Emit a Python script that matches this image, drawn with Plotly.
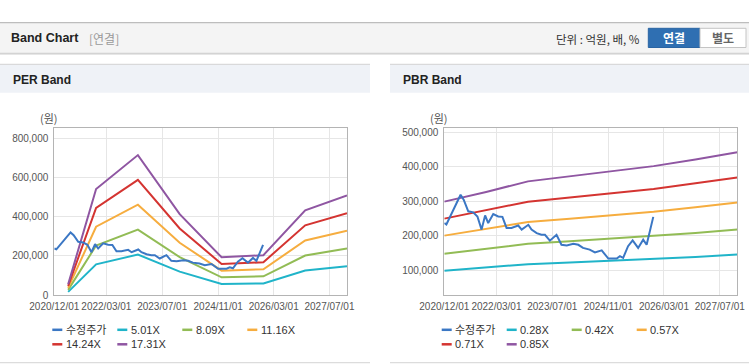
import plotly.graph_objects as go

W, H = 749, 364

# ---------------- data ----------------
price_dates = ["2020-12-01", "2020-12-19", "2021-04-22", "2021-05-19", "2021-06-28", "2021-08-10",
               "2021-09-16", "2021-10-22", "2021-11-22", "2021-12-19", "2022-02-01", "2022-03-16",
               "2022-04-22", "2022-05-28", "2022-07-10", "2022-09-07", "2022-10-07", "2022-12-04",
               "2023-01-01", "2023-02-15", "2023-03-28", "2023-04-28", "2023-06-10", "2023-08-07",
               "2023-09-19", "2023-11-04", "2024-01-01", "2024-02-13", "2024-03-25", "2024-05-22",
               "2024-07-07", "2024-09-04", "2024-11-01", "2025-01-13", "2025-02-10", "2025-03-10",
               "2025-04-22", "2025-06-01", "2025-07-19", "2025-09-01", "2025-10-01", "2025-10-28",
               "2025-11-28"]
price_vals = [237000, 233000, 319000, 305000, 271000, 268000, 256000, 218000, 259000, 237000,
              263000, 256000, 255000, 223000, 223000, 230000, 218000, 232000, 218000, 208000,
              203000, 203000, 186000, 203000, 174000, 172000, 177000, 174000, 165000, 160000,
              152000, 158000, 134000, 134000, 141000, 136000, 170000, 187000, 165000, 189000,
              174000, 208000, 255000]

per_dates = ["2021-04-01", "2021-12-01", "2022-12-01", "2023-12-01", "2024-12-01",
             "2025-12-01", "2026-12-01", "2027-12-01"]
per_501 = [16000, 156000, 206000, 119000, 56000, 59000, 125000, 147000]
per_809 = [26000, 252000, 333000, 193000, 90000, 95000, 201000, 237000]
per_1116 = [36000, 348000, 460000, 266000, 124000, 131000, 278000, 327000]
per_1424 = [46000, 444000, 587000, 339000, 158000, 167000, 355000, 417000]
per_1731 = [55000, 540000, 713000, 412000, 192000, 203000, 431000, 507000]
per_names = ["5.01X", "8.09X", "11.16X", "14.24X", "17.31X"]

pbr_dates = ["2020-12-01", "2021-12-01", "2022-12-01", "2023-12-01", "2024-12-01",
             "2025-12-01", "2026-12-01", "2027-12-01"]
pbr_028 = [98600, 107800, 117900, 122600, 127700, 132400, 138900, 145600]
pbr_042 = [147800, 161700, 176800, 184000, 191500, 198700, 208300, 218400]
pbr_057 = [200600, 219500, 240000, 249700, 259900, 269600, 282700, 296400]
pbr_071 = [249900, 273400, 298900, 311000, 323800, 335800, 352200, 369200]
pbr_085 = [299200, 327300, 357900, 372300, 387600, 402100, 421600, 442000]
pbr_names = ["0.28X", "0.42X", "0.57X", "0.71X", "0.85X"]

price_name = "수정주가"
x_tick_vals = ["2020-12-01", "2022-03-01", "2023-07-01", "2024-11-01", "2026-03-01", "2027-07-01"]
x_tick_text = ["2020/12/01", "2022/03/01", "2023/07/01", "2024/11/01", "2026/03/01", "2027/07/01"]
per_y_ticks = [0, 200000, 400000, 600000, 800000]
pbr_y_ticks = [100000, 200000, 300000, 400000, 500000]

# ---------------- styles ----------------
C_PRICE = "#3b77c4"
BAND_COLORS = ["#20b4c9", "#92bc55", "#f6ad3f", "#d43431", "#8f56a2"]
FONT = "Liberation Sans, Arial, 'Noto Sans CJK KR', sans-serif"
KFONT = "'Noto Sans CJK KR', 'Liberation Sans', sans-serif"


def px(x):
    return x / W


def py(y):
    return 1 - y / H


fig = go.Figure()

# PER traces
for vals, nm, col in zip([per_501, per_809, per_1116, per_1424, per_1731], per_names, BAND_COLORS):
    fig.add_trace(go.Scatter(x=per_dates, y=vals, mode="lines", name=nm,
                             line=dict(color=col, width=2), xaxis="x", yaxis="y"))
fig.add_trace(go.Scatter(x=price_dates, y=price_vals, mode="lines", name=price_name,
                         line=dict(color=C_PRICE, width=2), xaxis="x", yaxis="y"))

# PBR traces
for vals, nm, col in zip([pbr_028, pbr_042, pbr_057, pbr_071, pbr_085], pbr_names, BAND_COLORS):
    fig.add_trace(go.Scatter(x=pbr_dates, y=vals, mode="lines", name=nm,
                             line=dict(color=col, width=2), xaxis="x2", yaxis="y2"))
fig.add_trace(go.Scatter(x=price_dates, y=price_vals, mode="lines", name=price_name,
                         line=dict(color=C_PRICE, width=2), xaxis="x2", yaxis="y2"))

ydom = [py(295), py(128)]
xaxis_common = dict(type="date", range=["2020-12-01", "2027-12-01"], tickvals=x_tick_vals,
                    ticktext=x_tick_text, tickangle=0, showgrid=True, gridcolor="#e6e6e6", gridwidth=1,
                    showline=True, mirror=True, linecolor="#b4b4b4", linewidth=1,
                    ticks="", tickfont=dict(family=FONT, size=10, color="#555"),
                    zeroline=False, fixedrange=True, ticklabelstandoff=2, automargin=False)
yaxis_common = dict(showgrid=True, gridcolor="#e6e6e6", gridwidth=1, showline=True, mirror=True,
                    linecolor="#b4b4b4", linewidth=1, ticks="", tickformat=",d",
                    tickfont=dict(family=FONT, size=10, color="#555"), zeroline=False,
                    fixedrange=True, ticklabelstandoff=3, automargin=False)

fig.update_layout(
    width=W, height=H, margin=dict(l=0, r=0, t=0, b=0, pad=0, autoexpand=False), autosize=False,
    paper_bgcolor="white", plot_bgcolor="white", showlegend=False,
    xaxis=dict(domain=[px(54.3), px(347)], anchor="y", **xaxis_common),
    yaxis=dict(domain=ydom, anchor="x", range=[0, 851000], tickvals=per_y_ticks, **yaxis_common),
    xaxis2=dict(domain=[px(444.3), px(737.3)], anchor="y2", **xaxis_common),
    yaxis2=dict(domain=ydom, anchor="x2", range=[28500, 512600], tickvals=pbr_y_ticks, **yaxis_common),
)

shapes = []
annotations = []


def rect(x0, y0, x1, y1, fill, line_color=None, lw=0):
    shapes.append(dict(type="rect", xref="paper", yref="paper", x0=px(x0), x1=px(x1),
                       y0=py(y1), y1=py(y0), fillcolor=fill, layer="below",
                       line=dict(color=line_color or fill, width=lw)))


def hline(x0, x1, y, color, w=1):
    shapes.append(dict(type="line", xref="paper", yref="paper", x0=px(x0), x1=px(x1),
                       y0=py(y), y1=py(y), line=dict(color=color, width=w)))


def text(x, y, s, size=12, color="#333", bold=False, xanchor="left", family=FONT):
    annotations.append(dict(xref="paper", yref="paper", x=px(x), y=py(y), text=(f"<b>{s}</b>" if bold else s),
                            showarrow=False, xanchor=xanchor, yanchor="middle",
                            font=dict(family=family, size=size, color=color)))


# top header bar
rect(0, 22.7, 749, 53, "#f4f4f4")
hline(0, 749, 22.7, "#bdbdbd", 1.2)
hline(0, 749, 53.3, "#c9c9c9", 1)
hline(0, 749, 54.5, "#e6e6e6", 1)
text(9, 38.5, "Band Chart", size=12.5, color="#222", bold=True)
text(87, 39, "[연결]", size=12, color="#999", family=KFONT)
text(642, 39, "단위 : 억원, 배, %", size=11.5, color="#333", xanchor="right", family=KFONT)
# buttons
rect(648.3, 28.3, 700, 47.5, "#2f6fb2", "#2a64a3", 1)
rect(700, 28.3, 746, 47.5, "#ffffff", "#c4c4c4", 1)
text(674, 38, "연결", size=12, color="white", bold=True, xanchor="center", family=KFONT)
text(723, 38, "별도", size=12, color="#666", bold=True, xanchor="center", family=KFONT)

# panel headers
for x0, x1, title in [(0, 370, "PER Band"), (390, 749, "PBR Band")]:
    rect(x0, 64.3, x1, 92.7, "#eff2f7")
    hline(x0, x1, 64.3, "#d2d2d2", 1)
    hline(x0, x1, 362.7, "#dcdcdc", 1.2)
    text(x0 + 11, 79.5, title, size=12, color="#222", bold=True)

# unit labels
text(48.5, 118, "(원)", size=11, color="#555", xanchor="center", family=KFONT)
text(438.5, 118, "(원)", size=11, color="#555", xanchor="center", family=KFONT)

# legends
leg_per = [(price_name, C_PRICE)] + list(zip(per_names, BAND_COLORS))
leg_pbr = [(price_name, C_PRICE)] + list(zip(pbr_names, BAND_COLORS))
cols = [0, 65, 130, 195]
for base_x, items in [(52.3, leg_per), (441.7, leg_pbr)]:
    for i, (nm, col) in enumerate(items):
        r, c = divmod(i, 4)
        lx = base_x + cols[c]
        ly = 329.8 if r == 0 else 344.3
        hline(lx, lx + 10, ly, col, 2.5)
        text(lx + 11.5, ly, nm, size=11, color="#333")

fig.update_layout(shapes=shapes, annotations=annotations)

fig.write_html("out.html",
               config={"displayModeBar": False, "responsive": False},
               default_width="749px", default_height="364px",
               post_script="document.body.style.margin='0';document.body.style.padding='0';"
                           "document.body.style.overflow='hidden';")
